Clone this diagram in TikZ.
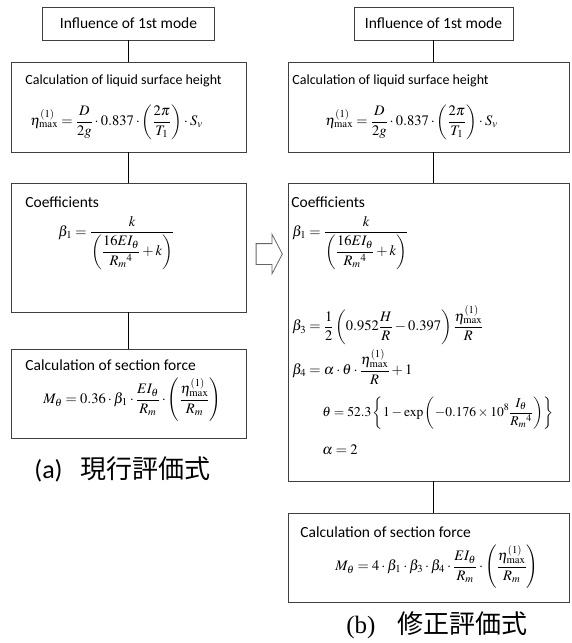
\documentclass[tikz,border=0pt]{standalone}
\usepackage{amsmath}
\usepackage{mathptmx}
\usepackage[no-math]{fontspec}
\setmainfont{Carlito}
\newfontfamily\jpfont{Noto Sans CJK JP}
\newfontfamily\timesfont{Liberation Serif}
\usetikzlibrary{shapes.arrows}

\begin{document}
\begin{tikzpicture}[x=1pt, y=-1pt, thick,
    box/.style={draw=black!75, line width=0.8pt, rectangle, inner sep=0pt},
    head/.style={anchor=west, inner sep=0pt, font=\fontsize{15.5}{18}\selectfont},
    eqn/.style={anchor=west, inner sep=0pt, font=\fontsize{14.5}{17}\selectfont},
    link/.style={line width=1.6pt}]
    \useasboundingbox (0,0) rectangle (571,643);

    % Left column: current formula
    \node[box, minimum width=172, minimum height=33, font=\fontsize{15.5}{18}\selectfont] (inflA) at (128.5,23.5) {Influence of 1st mode};
    \node[box, minimum width=235, minimum height=90] (hgtA) at (128.5,107) {};
    \node[box, minimum width=235, minimum height=129] (coefA) at (128.5,247.5) {};
    \node[box, minimum width=235, minimum height=89] (forceA) at (128.5,393.5) {};

    \node[head, font=\fontsize{14}{17}\selectfont] (hgtAtxt) at (25,81) {Calculation of liquid surface height};
    \node[eqn] (hgtAeq) at (30,122) {$\displaystyle \eta^{(1)}_{\max} = \frac{D}{2g}\cdot 0.837\cdot\left(\frac{2\pi}{T_1}\right)\cdot S_v$};
    \node[head] (coefAtxt) at (25,202) {Coefficients};
    \node[eqn, anchor=north west] (beta1A) at (58,216) {$\displaystyle \beta_1 = \frac{k}{\left(\dfrac{16EI_\theta}{R_m{}^4}+k\right)}$};
    \node[head] (forceAtxt) at (25,365) {Calculation of section force};
    \node[eqn] (forceAeq) at (43,400) {$\displaystyle M_\theta = 0.36\cdot\beta_1\cdot\frac{EI_\theta}{R_m}\cdot\left(\frac{\eta^{(1)}_{\max}}{R_m}\right)$};

    \node[inner sep=0pt, anchor=west] (capA) at (34,469) {\fontsize{26}{29}\selectfont (a)\hspace{18pt}{\jpfont\fontsize{26}{30}\selectfont 現行評価式}};

    % Right column: revised formula
    \node[box, minimum width=159, minimum height=33, font=\fontsize{15.5}{18}\selectfont] (inflB) at (433.5,23.5) {Influence of 1st mode};
    \node[box, minimum width=281, minimum height=90] (hgtB) at (428.5,107) {};
    \node[box, minimum width=281, minimum height=298] (coefB) at (428.5,332) {};
    \node[box, minimum width=281, minimum height=89] (forceB) at (428.5,557.5) {};

    \node[head, font=\fontsize{14}{17}\selectfont] (hgtBtxt) at (292,81) {Calculation of liquid surface height};
    \node[eqn] (hgtBeq) at (325,122) {$\displaystyle \eta^{(1)}_{\max} = \frac{D}{2g}\cdot 0.837\cdot\left(\frac{2\pi}{T_1}\right)\cdot S_v$};
    \node[head] (coefBtxt) at (291,202) {Coefficients};
    \node[eqn, anchor=north west] (beta1B) at (292,216) {$\displaystyle \beta_1 = \frac{k}{\left(\dfrac{16EI_\theta}{R_m{}^4}+k\right)}$};
    \node[eqn] (beta3B) at (292,325) {$\displaystyle \beta_3 = \frac{1}{2}\left(0.952\frac{H}{R}-0.397\right)\frac{\eta^{(1)}_{\max}}{R}$};
    \node[eqn] (beta4B) at (292,367) {$\displaystyle \beta_4 = \alpha\cdot\theta\cdot\frac{\eta^{(1)}_{\max}}{R}+1$};
    \node[eqn, font=\fontsize{13.5}{16}\selectfont] (thetaB) at (322,413) {$\displaystyle \theta = 52.3\left\{1-\exp\left(-0.176\times10^8\frac{I_\theta}{R_m{}^4}\right)\right\}$};
    \node[eqn] (alphaB) at (322,450) {$\alpha = 2$};
    \node[head] (forceBtxt) at (300,532) {Calculation of section force};
    \node[eqn] (forceBeq) at (335,567) {$\displaystyle M_\theta = 4\cdot\beta_1\cdot\beta_3\cdot\beta_4\cdot\frac{EI_\theta}{R_m}\cdot\left(\frac{\eta^{(1)}_{\max}}{R_m}\right)$};

    \node[inner sep=0pt, anchor=west] (capB) at (346,625) {\timesfont\fontsize{25}{28}\selectfont (b)\hspace{22pt}{\jpfont\fontsize{26}{30}\selectfont 修正評価式}};

    % Block arrow between the columns
    \node[single arrow, draw=black!60, line width=0.8pt, fill=white, inner sep=10pt, minimum height=21pt,
          single arrow head extend=9.5pt, single arrow tip angle=125, shape border rotate=0] (goto) at (266.5,254) {};

    % Links
    \draw[link] (inflA) -- (hgtA);
    \draw[link] (hgtA) -- (coefA);
    \draw[link] (coefA) -- (forceA);
    \draw[link] (inflB) -- (hgtB.north -| inflB);
    \draw[link] (hgtB.south -| inflB) -- (coefB.north -| inflB);
    \draw[link] (coefB.south -| inflB) -- (forceB.north -| inflB);
\end{tikzpicture}
\end{document}
